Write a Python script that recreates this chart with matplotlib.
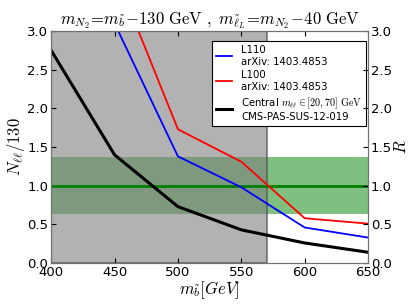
import matplotlib
matplotlib.use("Agg")
import matplotlib.pyplot as plt

plt.rcParams["mathtext.fontset"] = "cm"
plt.rcParams["font.family"] = "DejaVu Sans"
plt.rcParams["xtick.direction"] = "in"
plt.rcParams["ytick.direction"] = "in"

# sbottom masses [GeV]
m_sb = [400, 450, 500, 550, 600, 650]

# N_ll / 130 curves
l110 = [None, 3.10, 1.38, 0.98, 0.46, 0.33]
l100 = [None, 3.77, 1.73, 1.31, 0.58, 0.51]
cms_central = [2.75, 1.40, 0.73, 0.43, 0.26, 0.14]

# excluded region and CMS band
excl_lo, excl_hi = 400, 570
band_lo, band_hi, band_mid = 0.63, 1.37, 1.0

fig = plt.figure(figsize=(4.09, 3.07), dpi=100)
ax = fig.add_axes([0.125, 0.143, 0.775, 0.756])

ax.axhspan(band_lo, band_hi, color="green", alpha=0.5, lw=0)
ax.axhline(band_mid, color="green", lw=2)
ax.axvspan(excl_lo, excl_hi, facecolor="gray", edgecolor="0.3", lw=1.5, alpha=0.6)

x_sub = m_sb[1:]
ax.plot(x_sub, l110[1:], color="blue", lw=1.3, label="L110\narXiv: 1403.4853")
ax.plot(x_sub, l100[1:], color="red", lw=1.3, label="L100\narXiv: 1403.4853")
ax.plot(m_sb, cms_central, color="black", lw=2.2,
        label="Central $m_{\\ell\\ell}\\in[20,70]\\ \\mathrm{GeV}$\nCMS-PAS-SUS-12-019")

ax.set_xlim(400, 650)
ax.set_ylim(0, 3.0)
ax.set_xticks([400, 450, 500, 550, 600, 650])
ax.set_yticks([0.0, 0.5, 1.0, 1.5, 2.0, 2.5, 3.0])
ax.tick_params(labelsize=9.5, top=True, right=False, pad=2)
ax.set_xlabel("$m_{\\tilde{b}} [GeV]$", fontsize=12, labelpad=0)
ax.set_ylabel("$N_{\\ell\\ell}/130$", fontsize=12, labelpad=0)
ax.set_title("$m_{N_2}\\!=\\!m_{\\tilde{b}}\\!-\\!130\\ \\mathrm{GeV}\\ ,\\ m_{\\tilde{\\ell}_L}\\!=\\!m_{N_2}\\!-\\!40\\ \\mathrm{GeV}$",
             fontsize=12, pad=3)

for s in ax.spines.values():
    s.set_color("0.45")

leg = ax.legend(loc="upper right", bbox_to_anchor=(0.994, 0.957), fontsize=7.3,
                fancybox=False, framealpha=1, edgecolor="black",
                handlelength=1.6, handletextpad=0.9, labelspacing=0.35,
                borderpad=0.4, borderaxespad=0)
leg.get_frame().set_linewidth(0.8)

ax2 = ax.twinx()
ax2.set_ylim(0, 3.0)
ax2.set_yticks([0.0, 0.5, 1.0, 1.5, 2.0, 2.5, 3.0])
ax2.tick_params(labelsize=9.5, pad=2)
ax2.set_ylabel("$R$", fontsize=12, labelpad=0)
for s in ax2.spines.values():
    s.set_color("0.45")

fig.savefig("out.png", dpi=100)
